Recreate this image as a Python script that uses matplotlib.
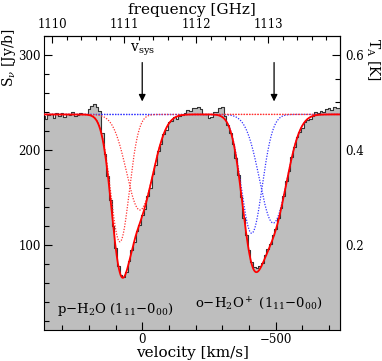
import numpy as np
import matplotlib
matplotlib.use('Agg')
import matplotlib.pyplot as plt
from matplotlib.ticker import MultipleLocator, FixedLocator

plt.rcParams['font.family'] = ['DejaVu Serif']
plt.rcParams['mathtext.fontset'] = 'dejavuserif'

# observed spectrum, 10 km/s channels from +370 to -740 km/s
chan_v = np.arange(370, -741, -10)
flux = [
    236, 233, 237, 238, 234, 239, 236, 239, 235, 238,   # 370 .. 280
    237, 240, 236, 237, 239, 238, 238, 243, 246, 248,   # 270 .. 180
    245, 241, 218, 196, 172, 147, 120, 96, 78, 68,      # 170 .. 80
    66, 71, 83, 94, 103, 114, 121, 131, 138, 151,       # 70 .. -20
    160, 175, 184, 199, 206, 217, 221, 229, 230, 235,   # -30 .. -120
    233, 236, 237, 239, 242, 241, 244, 244, 245, 243,   # -130 .. -220
    238, 238, 234, 235, 240, 240, 244, 245, 236, 226,   # -230 .. -320
    218, 206, 191, 173, 150, 128, 110, 94, 82, 76,      # -330 .. -420
    75, 77, 81, 89, 95, 101, 110, 116, 128, 139,        # -430 .. -520
    151, 167, 178, 192, 203, 213, 219, 223, 229, 231,   # -530 .. -620
    233, 236, 240, 239, 241, 240, 243, 244, 242, 245,   # -630 .. -720
    244, 244,                                           # -730 .. -740
]

continuum = 237.3
# gaussian fit components: centre [km/s], depth [Jy], sigma [km/s]
h2o_centre = [83.6, 8.6]
h2o_depth = [134.3, 100.8]
h2o_sigma = [35.0, 50.0]
h2op_centre = [-410.0, -491.0]
h2op_depth = [125.3, 114.5]
h2op_sigma = [39.5, 51.0]

arrow_v = [0, -494]

freq_major = [1110, 1111, 1112, 1113]
freq_minor = [1110.0, 1110.2, 1110.4, 1110.6, 1110.8, 1111.0, 1111.2, 1111.4,
              1111.6, 1111.8, 1112.0, 1112.2, 1112.4, 1112.6, 1112.8, 1113.0,
              1113.2, 1113.4, 1113.6, 1113.8]
ta_major = [0.2, 0.4, 0.6]
ta_minor = [0.05, 0.1, 0.15, 0.2, 0.25, 0.3, 0.35, 0.4, 0.45, 0.5, 0.55, 0.6]

F0 = 1111.248  # GHz at v = 0
C = 299792.458


def v2f(v):
    return F0 * (1 - np.asarray(v) / C)


def f2v(f):
    return C * (1 - np.asarray(f) / F0)


def gauss(v, c, d, s):
    return d * np.exp(-0.5 * ((v - c) / s) ** 2)


vv = np.linspace(380, -750, 2000)
comps_h2o = [gauss(vv, c, d, s) for c, d, s in zip(h2o_centre, h2o_depth, h2o_sigma)]
comps_h2op = [gauss(vv, c, d, s) for c, d, s in zip(h2op_centre, h2op_depth, h2op_sigma)]
total = continuum - sum(comps_h2o) - sum(comps_h2op)

fig = plt.figure(figsize=(3.82, 3.61), dpi=100)
ax = fig.add_axes([44 / 382, 1 - 330 / 361, 296 / 382, 294 / 361])

ax.fill_between(chan_v, 0, flux, step='mid', color='#bebebe', lw=0, zorder=1)
ax.step(chan_v, flux, where='mid', color='#333333', lw=0.8, zorder=2)

for comp in comps_h2op:
    ax.plot(vv, continuum - comp, color='#3333ff', ls=(0, (1, 1.2)), lw=0.9, zorder=3)
for comp in comps_h2o:
    ax.plot(vv, continuum - comp, color='#ff3333', ls=(0, (1, 1.2)), lw=0.9, zorder=3)
ax.plot(vv, total, color='#ff0000', lw=1.3, zorder=4)

for av in arrow_v:
    ax.annotate('', xy=(av, 251), xytext=(av, 292),
                arrowprops=dict(arrowstyle='-|>', color='black', lw=0.9,
                                mutation_scale=10, shrinkA=0, shrinkB=0))
ax.text(0, 297, r'v$_{\rm sys}$', ha='center', va='bottom', fontsize=10)

ax.text(102, 32, r'p$-$H$_2$O (1$_{11}$$-$0$_{00}$)', ha='center', va='center', fontsize=9.5)
ax.text(-437, 38, r'o$-$H$_2$O$^+$ (1$_{11}$$-$0$_{00}$)', ha='center', va='center', fontsize=9.5)

ax.set_xlim(368, -741)
ax.set_ylim(10, 320)
ax.xaxis.set_major_locator(MultipleLocator(500))
ax.xaxis.set_minor_locator(MultipleLocator(100))
ax.yaxis.set_major_locator(MultipleLocator(100))
ax.yaxis.set_minor_locator(MultipleLocator(20))
ax.tick_params(which='both', direction='in', labelsize=8.5, width=0.8, pad=2.5)
ax.tick_params(which='major', length=6)
ax.tick_params(which='minor', length=3.5)
ax.set_xlabel('velocity [km/s]', fontsize=11, labelpad=0)

top = ax.secondary_xaxis('top', functions=(v2f, f2v))
top.xaxis.set_major_locator(FixedLocator(freq_major))
top.xaxis.set_minor_locator(FixedLocator(freq_minor))
top.tick_params(which='both', direction='in', labelsize=8.5, width=0.8)
top.tick_params(which='major', length=5)
top.tick_params(which='minor', length=3)
top.set_xlabel('frequency [GHz]', fontsize=11, labelpad=3)

right = ax.secondary_yaxis('right', functions=(lambda s: s / 500, lambda t: t * 500))
right.yaxis.set_major_locator(FixedLocator(ta_major))
right.yaxis.set_minor_locator(FixedLocator(ta_minor))
right.tick_params(which='both', direction='in', labelsize=8.5, width=0.8)
right.tick_params(which='major', length=6)
right.tick_params(which='minor', length=3.5)

fig.text(9 / 382, 1 - 58 / 361, r'S$_\nu$ [Jy/b]', rotation=90, ha='center', va='center', fontsize=10)
fig.text(373 / 382, 1 - 60 / 361, r'T$_{\rm A}$ [K]', rotation=270, ha='center', va='center', fontsize=10)

fig.savefig('out.png', dpi=100)
